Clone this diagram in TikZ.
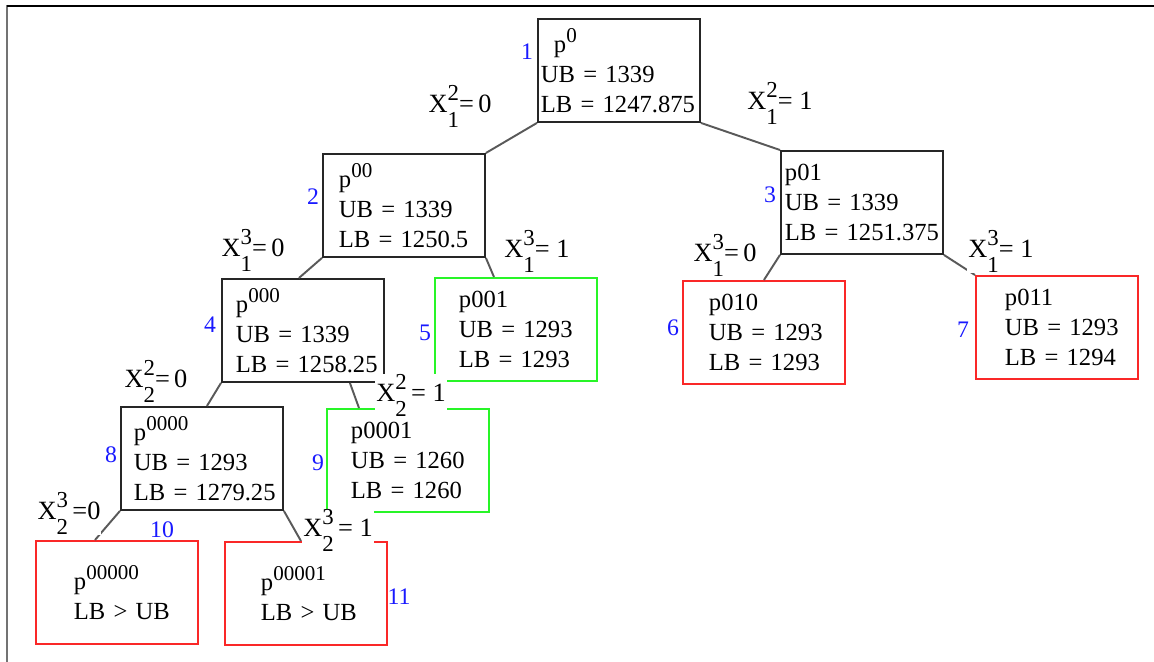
\documentclass[tikz,border=0pt]{standalone}
\usepackage{fontspec}
\setmainfont{Liberation Serif}
\usetikzlibrary{positioning,calc}

\definecolor{leafgreen}{RGB}{40,245,40}
\definecolor{cutred}{RGB}{250,40,40}
\definecolor{numblue}{RGB}{25,25,255}

\newcommand{\xv}[3]{X\makebox[0pt][l]{\raisebox{7pt}{\fontsize{13}{13}\selectfont #1}}\raisebox{-8pt}{\fontsize{13}{13}\selectfont #2}#3}
\newcommand{\pup}[1]{\raisebox{0.42em}{\fontsize{12}{12}\selectfont #1}}
\newcommand{\pl}[2]{\hspace*{#1}#2}

\begin{document}
\begin{tikzpicture}[
    x=0.02cm, y=-0.02cm,
    box/.style={rectangle, draw=black!85, line width=1.1pt, anchor=north west, align=left, inner xsep=0pt, inner ysep=0pt, text width=3.24cm, minimum height=2.06cm, font=\fontsize{14}{17}\selectfont},
    okbox/.style={box, draw=leafgreen},
    cutbox/.style={box, draw=cutred},
    edge/.style={draw=black!65, line width=1.1pt},
    brl/.style={fill=white, inner sep=0.6pt, anchor=base, font=\fontsize{15}{15}\selectfont},
    num/.style={text=numblue, inner sep=0pt, font=\fontsize{13.5}{13.5}\selectfont}
]
    \useasboundingbox (0,0) rectangle (1154,662);
    \draw [draw=black!55, line width=1.1pt] (7,5) -- (7,662);
    \draw [draw=black, line width=1.1pt] (7,6) -- (1154,6);

    % search tree
    \node [box] (n1) at (537,18) {\pl{0.32cm}{p\pup{0}}\\\pl{0.06cm}{UB = 1339}\\\pl{0.06cm}{LB = 1247.875}};
    \node [box] (n2) at (322,153) {\pl{0.32cm}{p\pup{00}}\\\pl{0.32cm}{UB = 1339}\\\pl{0.32cm}{LB = 1250.5}};
    \node [box] (n3) at (780,150) {\pl{0.08cm}{p01}\\\pl{0.08cm}{UB = 1339}\\\pl{0.08cm}{LB = 1251.375}};
    \node [box] (n4) at (221,278) {\pl{0.28cm}{p\pup{000}}\\\pl{0.28cm}{UB = 1339}\\\pl{0.28cm}{LB = 1258.25}};
    \node [okbox] (n5) at (434,277) {\pl{0.48cm}{p001}\\\pl{0.48cm}{UB = 1293}\\\pl{0.48cm}{LB = 1293}};
    \node [cutbox] (n6) at (682,280) {\pl{0.52cm}{p010}\\\pl{0.52cm}{UB = 1293}\\\pl{0.52cm}{LB = 1293}};
    \node [cutbox] (n7) at (975,275) {\pl{0.58cm}{p011}\\\pl{0.58cm}{UB = 1293}\\\pl{0.58cm}{LB = 1294}};
    \node [box] (n8) at (120,406) {\pl{0.26cm}{p\pup{0000}}\\\pl{0.26cm}{UB = 1293}\\\pl{0.26cm}{LB = 1279.25}};
    \node [okbox] (n9) at (326,408) {\pl{0.48cm}{p0001}\\\pl{0.48cm}{UB = 1260}\\\pl{0.48cm}{LB = 1260}};
    \node [cutbox] (n10) at (35,540) {\pl{0.76cm}{p\pup{00000}}\\\pl{0.76cm}{LB > UB}};
    \node [cutbox] (n11) at (224,541) {\pl{0.72cm}{p\pup{00001}}\\\pl{0.72cm}{LB > UB}};

    \draw [edge] (n1.south west) -- (n2.north east);
    \draw [edge] (n1.south east) -- (n3.north west);
    \draw [edge] (n2.south west) -- ([xshift=-0.08cm]n4.north);
    \draw [edge] (n2.south east) -- ([xshift=1.2cm]n5.north west);
    \draw [edge] (n3.south west) -- (n6.north);
    \draw [edge] (n3.south east) -- (n7.north west);
    \draw [edge] (n4.south west) -- ([xshift=0.1cm]n8.north);
    \draw [edge] ([xshift=-0.7cm]n4.south east) -- ([xshift=0.66cm]n9.north west);
    \draw [edge] (n8.south west) -- ([xshift=1.2cm]n10.north west);
    \draw [edge] (n8.south east) -- ([xshift=-0.1cm]n11.north);

    % branch labels
    \node [brl] (l1) at (460,113) {\xv{2}{1}{=\,0}};
    \node [brl] (l2) at (780,110) {\xv{2}{1}{= 1}};
    \node [brl] (l3) at (253,257) {\xv{3}{1}{=\,0}};
    \node [brl] (l4) at (537,258) {\xv{3}{1}{= 1}};
    \node [brl] (l5) at (725,262) {\xv{3}{1}{=\,0}};
    \node [brl] (l6) at (1001,258) {\xv{3}{1}{= 1}};
    \node [brl] (l7) at (156,388) {\xv{2}{2}{=\,0}};
    \node [brl] (l8) at (411,402) {\xv{2}{2}{\,= 1}};
    \node [brl] (l9) at (69,520) {\xv{3}{2}{\,=0}};
    \node [brl] (l10) at (338,537) {\xv{3}{2}{\,= 1}};

    % node order
    \node [num] (k1) at (527,52) {1};
    \node [num] (k2) at (313,197) {2};
    \node [num] (k3) at (770,195) {3};
    \node [num] (k4) at (210,325) {4};
    \node [num] (k5) at (425,333) {5};
    \node [num] (k6) at (673,328) {6};
    \node [num] (k7) at (963,330) {7};
    \node [num] (k8) at (111,455) {8};
    \node [num] (k9) at (318,463) {9};
    \node [num] (k10) at (162,530) {10};
    \node [num] (k11) at (399,597) {11};
\end{tikzpicture}
\end{document}
